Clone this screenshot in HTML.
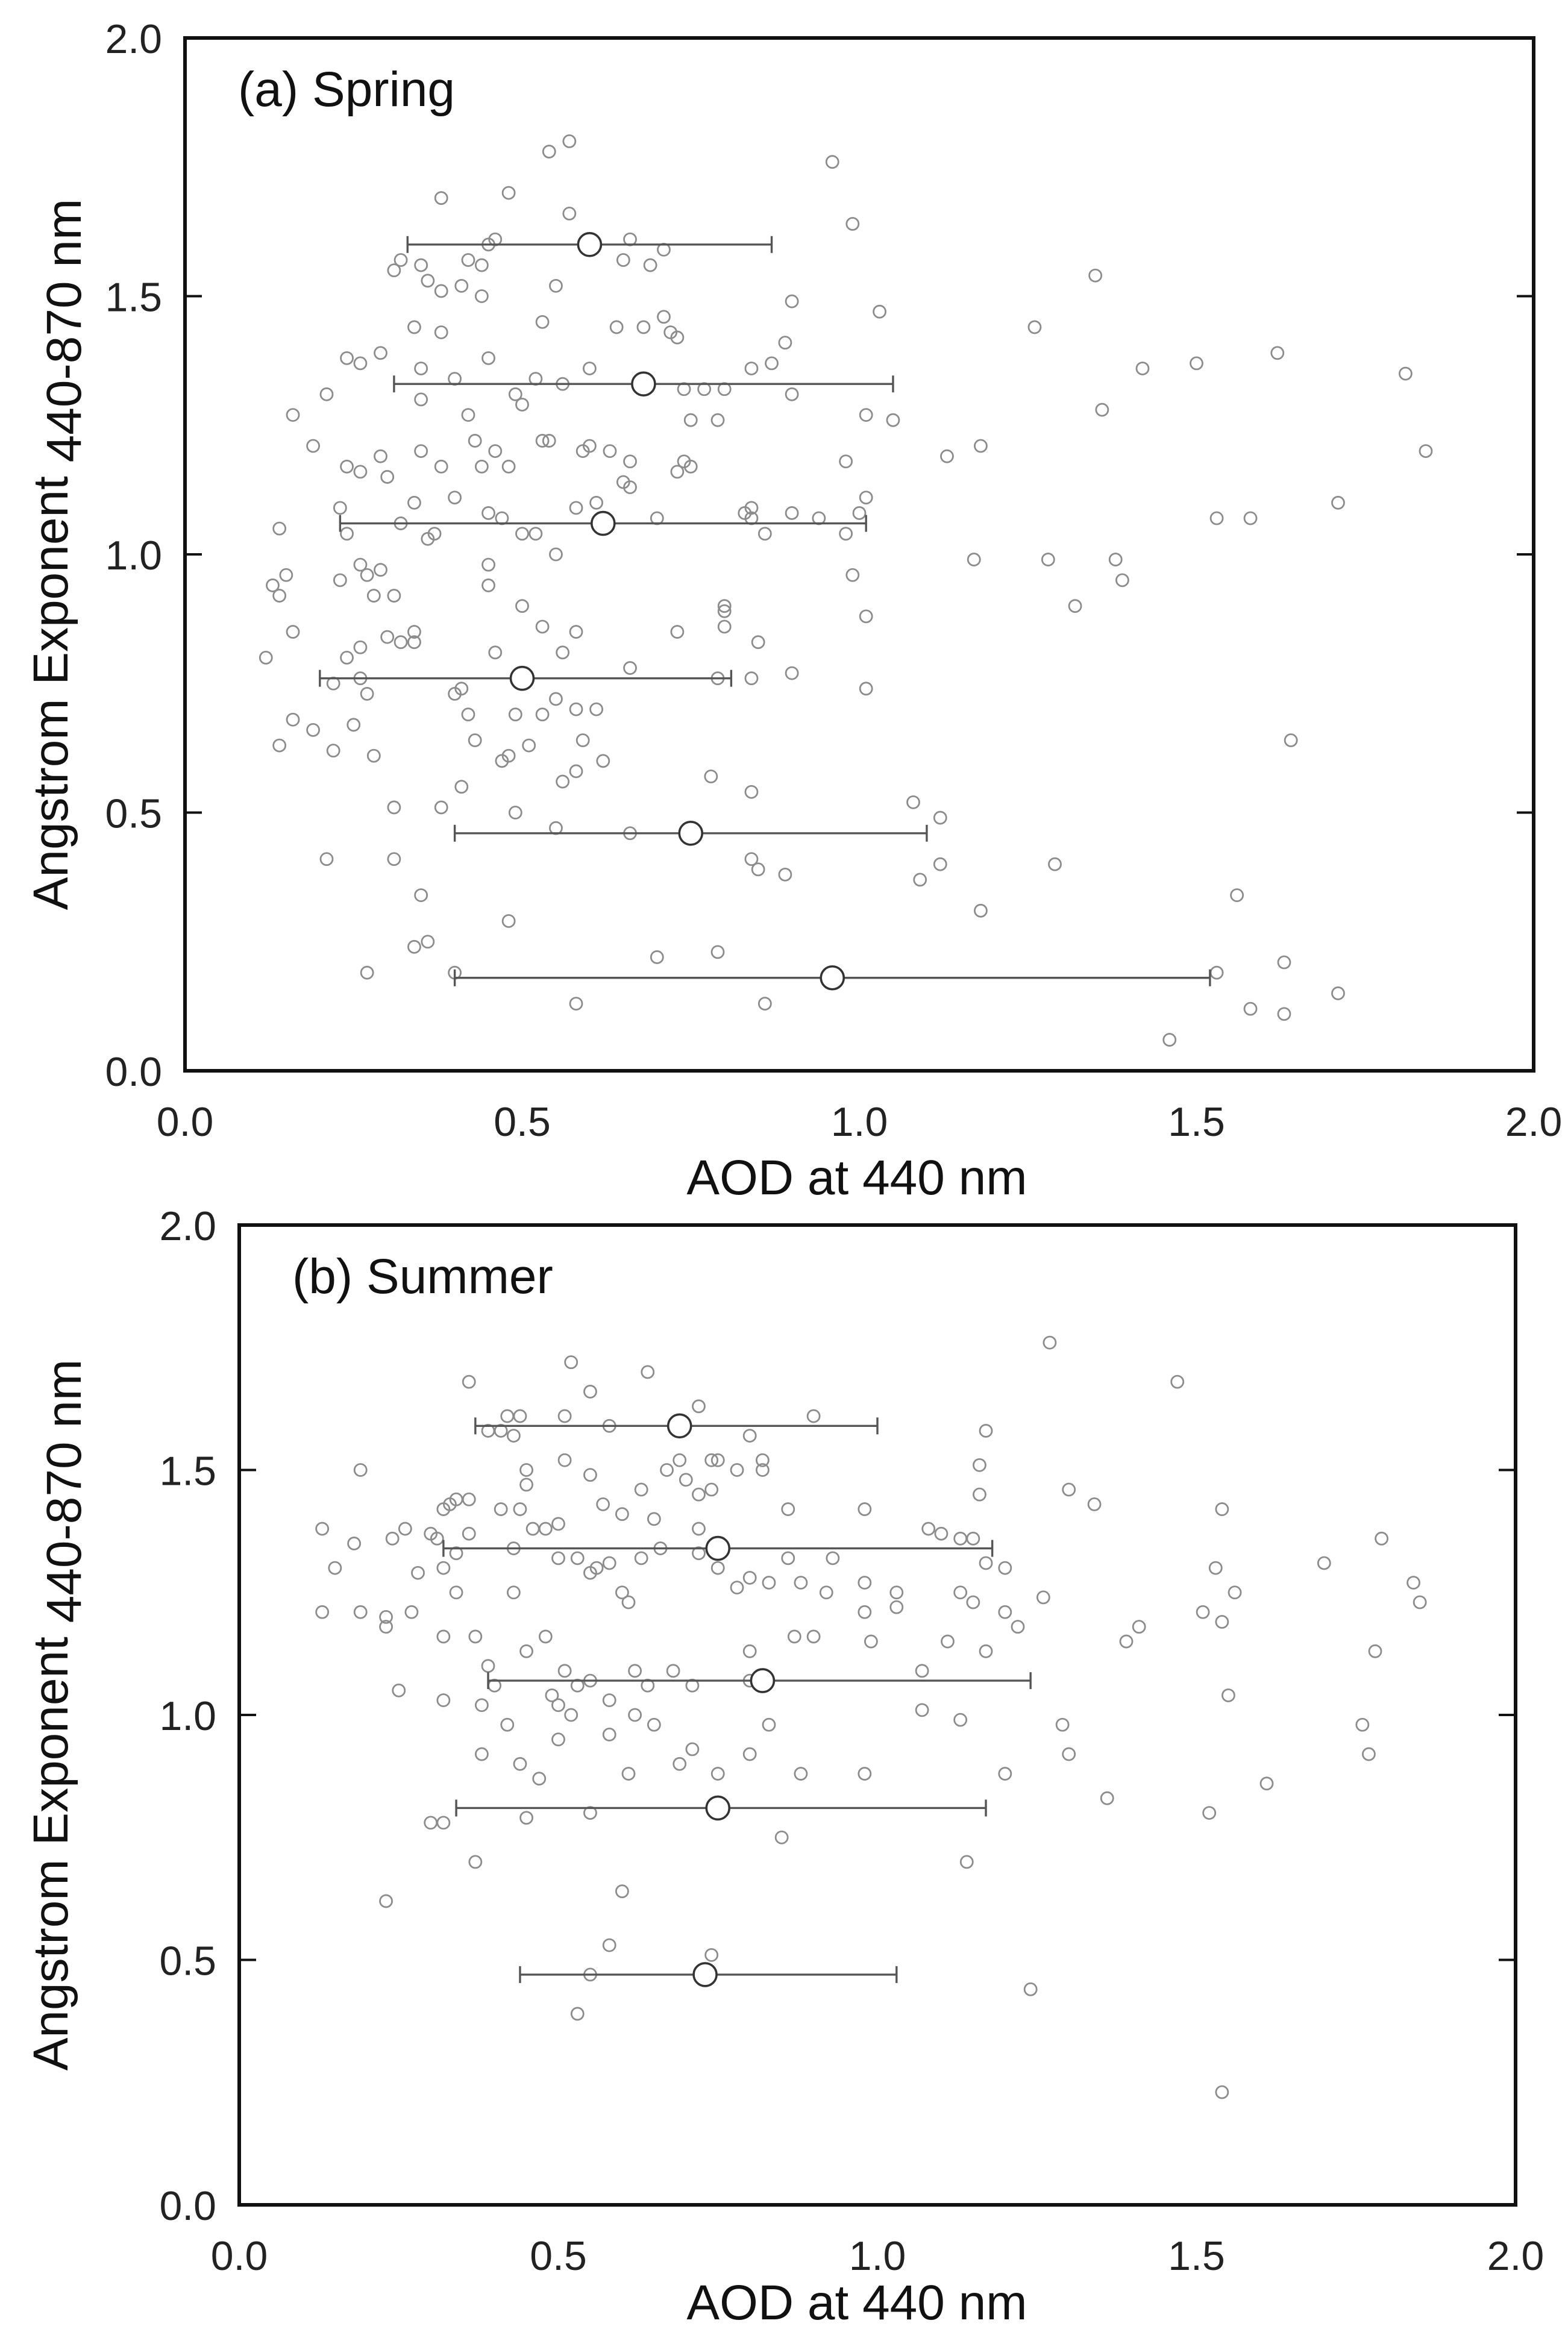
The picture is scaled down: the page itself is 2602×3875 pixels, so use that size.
<!DOCTYPE html>
<html><head><meta charset="utf-8"><style>
html,body{margin:0;padding:0;background:#fff;}
svg{display:block;font-family:"Liberation Sans",Arial,sans-serif;}
</style></head><body>
<svg id="chart" width="2602" height="3875" viewBox="0 0 2602 3875" xmlns="http://www.w3.org/2000/svg">
<rect x="0" y="0" width="2602" height="3875" fill="#fff"/>
</svg>
<script>
const tickValues = [0.0, 0.5, 1.0, 1.5, 2.0];
const tickLabels = ["0.0", "0.5", "1.0", "1.5", "2.0"];

const springX = [0.57,0.54,0.48,0.96,0.38,0.57,0.99,0.66,0.46,0.42,0.32,0.31,0.35,0.44,0.45,0.65,0.71,0.69,0.36,0.38,0.41,0.44,0.55,0.34,0.38,0.53,0.64,0.68,0.71,0.72,0.73,0.84,0.87,0.89,0.90,1.03,1.26,1.35,0.24,0.26,0.29,0.35,0.40,0.45,0.49,0.52,0.60,0.56,0.42,0.50,0.35,0.16,0.19,0.21,0.24,0.26,0.29,0.30,0.35,0.38,0.43,0.44,0.46,0.48,0.53,0.54,0.59,0.60,0.63,0.66,0.73,0.74,0.75,0.79,0.77,0.80,0.74,0.90,0.98,1.01,1.05,1.13,1.18,1.36,1.42,1.50,1.62,1.81,1.84,0.14,0.23,0.24,0.32,0.34,0.36,0.37,0.40,0.45,0.47,0.50,0.52,0.55,0.58,0.61,0.65,0.66,0.70,0.75,0.84,0.84,0.83,0.86,0.90,0.94,0.98,1.00,1.01,1.17,1.28,1.32,1.38,1.39,1.53,1.58,1.71,0.13,0.14,0.15,0.12,0.16,0.23,0.26,0.27,0.29,0.28,0.31,0.24,0.26,0.30,0.32,0.34,0.34,0.45,0.45,0.50,0.46,0.53,0.56,0.58,0.66,0.73,0.79,0.84,0.85,0.80,0.80,0.80,0.90,0.99,1.01,1.01,0.14,0.16,0.19,0.22,0.22,0.25,0.26,0.27,0.28,0.40,0.41,0.42,0.43,0.41,0.47,0.48,0.49,0.51,0.53,0.55,0.58,0.59,0.61,0.62,0.56,0.58,0.78,0.84,0.31,0.38,0.49,0.55,0.66,1.08,1.12,0.21,0.31,0.35,0.48,0.84,0.85,0.89,1.09,1.12,1.18,1.29,1.56,1.64,0.27,0.34,0.36,0.40,0.58,0.70,0.79,0.86,1.46,1.53,1.58,1.63,1.63,1.71];
const springY = [1.80,1.78,1.70,1.76,1.69,1.66,1.64,1.61,1.61,1.57,1.57,1.55,1.56,1.56,1.60,1.57,1.59,1.56,1.53,1.51,1.52,1.50,1.52,1.44,1.43,1.45,1.44,1.44,1.46,1.43,1.42,1.36,1.37,1.41,1.49,1.47,1.44,1.54,1.38,1.37,1.39,1.36,1.34,1.38,1.31,1.34,1.36,1.33,1.27,1.29,1.30,1.27,1.21,1.31,1.17,1.16,1.19,1.15,1.20,1.17,1.22,1.17,1.20,1.17,1.22,1.22,1.20,1.21,1.20,1.18,1.16,1.18,1.26,1.26,1.32,1.32,1.32,1.31,1.18,1.27,1.26,1.19,1.21,1.28,1.36,1.37,1.39,1.35,1.20,1.05,1.09,1.04,1.06,1.10,1.03,1.04,1.11,1.08,1.07,1.04,1.04,1.00,1.09,1.10,1.14,1.13,1.07,1.17,1.07,1.09,1.08,1.04,1.08,1.07,1.04,1.08,1.11,0.99,0.99,0.90,0.99,0.95,1.07,1.07,1.10,0.94,0.92,0.96,0.80,0.85,0.95,0.98,0.96,0.97,0.92,0.92,0.80,0.82,0.84,0.83,0.85,0.83,0.94,0.98,0.90,0.81,0.86,0.81,0.85,0.78,0.85,0.76,0.76,0.83,0.86,0.90,0.89,0.77,0.96,0.74,0.88,0.63,0.68,0.66,0.75,0.62,0.67,0.76,0.73,0.61,0.73,0.74,0.69,0.64,0.55,0.60,0.61,0.69,0.63,0.69,0.72,0.70,0.64,0.70,0.60,0.56,0.58,0.57,0.54,0.51,0.51,0.50,0.47,0.46,0.52,0.49,0.41,0.41,0.34,0.29,0.41,0.39,0.38,0.37,0.40,0.31,0.40,0.34,0.64,0.19,0.24,0.25,0.19,0.13,0.22,0.23,0.13,0.06,0.19,0.12,0.11,0.21,0.15];
const springMeanX = [0.60,0.68,0.62,0.50,0.75,0.96];
const springMeanY = [1.60,1.33,1.06,0.76,0.46,0.18];
const springErrLo = [0.33,0.31,0.23,0.20,0.40,0.40];
const springErrHi = [0.87,1.05,1.01,0.81,1.10,1.52];

const summerX = [1.27,1.47,0.52,0.64,0.36,0.55,0.42,0.44,0.51,0.72,0.90,0.41,0.39,0.43,0.58,0.80,1.17,0.19,0.34,0.36,0.33,0.32,0.41,0.44,0.46,0.48,0.50,0.51,0.55,0.45,0.45,0.63,0.67,0.70,0.74,0.75,0.78,0.72,0.69,0.60,0.57,0.65,0.74,0.82,0.82,0.86,0.98,1.16,1.16,1.30,1.34,1.54,0.13,0.15,0.18,0.19,0.23,0.23,0.24,0.26,0.27,0.28,0.30,0.31,0.32,0.32,0.34,0.34,0.36,0.37,0.43,0.43,0.50,0.53,0.55,0.56,0.58,0.60,0.61,0.63,0.66,0.72,0.72,0.75,0.78,0.80,0.83,0.86,0.88,0.92,0.93,0.98,0.98,1.03,1.03,1.08,1.10,1.13,1.15,1.17,1.20,1.22,1.20,1.15,1.13,1.26,1.51,1.53,1.56,1.54,1.70,1.79,1.84,1.85,0.13,0.25,0.39,0.40,0.45,0.48,0.51,0.53,0.55,0.58,0.62,0.64,0.68,0.71,0.80,0.80,0.87,0.90,0.99,1.07,1.11,1.17,1.39,1.41,0.32,0.38,0.42,0.49,0.50,0.52,0.58,0.62,0.65,0.69,0.71,0.75,0.80,0.83,0.50,0.44,0.47,0.38,0.61,0.88,0.98,1.07,1.13,1.20,1.29,1.30,1.36,1.55,1.61,1.76,1.78,1.77,0.30,0.32,0.37,0.45,0.55,0.85,1.14,1.52,0.23,0.60,0.58,0.74,0.55,0.53,1.24,1.54];
const summerY = [1.76,1.68,1.72,1.70,1.68,1.66,1.61,1.61,1.61,1.63,1.61,1.58,1.58,1.57,1.59,1.57,1.58,1.50,1.44,1.44,1.43,1.42,1.42,1.42,1.38,1.38,1.39,1.52,1.49,1.50,1.47,1.46,1.50,1.48,1.52,1.52,1.50,1.45,1.52,1.41,1.43,1.40,1.46,1.50,1.52,1.42,1.42,1.51,1.45,1.46,1.43,1.42,1.38,1.30,1.35,1.21,1.18,1.20,1.36,1.38,1.21,1.29,1.37,1.36,1.30,1.16,1.33,1.25,1.37,1.16,1.34,1.25,1.32,1.32,1.29,1.30,1.31,1.25,1.23,1.32,1.34,1.38,1.33,1.30,1.26,1.28,1.27,1.32,1.27,1.25,1.32,1.27,1.21,1.22,1.25,1.38,1.37,1.36,1.36,1.31,1.30,1.18,1.21,1.23,1.25,1.24,1.21,1.30,1.25,1.19,1.31,1.36,1.27,1.23,1.21,1.05,1.10,1.06,1.13,1.16,1.09,1.06,1.07,1.03,1.09,1.06,1.09,1.06,1.07,1.13,1.16,1.16,1.15,1.09,1.15,1.13,1.15,1.18,1.03,1.02,0.98,1.04,1.02,1.00,0.96,1.00,0.98,0.90,0.93,0.88,0.92,0.98,0.95,0.90,0.87,0.92,0.88,0.88,0.88,1.01,0.99,0.88,0.98,0.92,0.83,1.04,0.86,0.98,1.13,0.92,0.78,0.78,0.70,0.79,0.80,0.75,0.70,0.80,0.62,0.64,0.53,0.51,0.47,0.39,0.44,0.23];
const summerMeanX = [0.69,0.75,0.82,0.75,0.73];
const summerMeanY = [1.59,1.34,1.07,0.81,0.47];
const summerErrLo = [0.37,0.32,0.39,0.34,0.44];
const summerErrHi = [1.00,1.18,1.24,1.17,1.03];

const NS = "http://www.w3.org/2000/svg";
const svg = document.getElementById('chart');
function mk(tag, attrs, parent) {
  const e = document.createElementNS(NS, tag);
  for (const k in attrs) e.setAttribute(k, attrs[k]);
  (parent || svg).appendChild(e);
  return e;
}

function drawPanel(cfg, px, py, mx, my, lo, hi, key) {
  const xs = v => cfg.left + (v - 0) / 2 * (cfg.right - cfg.left);
  const ys = v => cfg.bottom - (v - 0) / 2 * (cfg.bottom - cfg.top);
  const g = mk('g', {});
  
  

  const pg = mk('g', {}, g);
  
  
  for (let i = 0; i < px.length; i++) {
    const c = mk('circle', {cx: xs(px[i]), cy: ys(py[i]), r: 10, fill: 'none', stroke: '#8c8c8c', 'stroke-width': 2.8}, pg);
    
    
  }
  for (let i = 0; i < mx.length; i++) {
    const eg = mk('g', {stroke: '#555', 'stroke-width': 3.4, fill: 'none'}, g);
    
    
    const y = ys(my[i]);
    mk('line', {x1: xs(lo[i]), x2: xs(hi[i]), y1: y, y2: y}, eg);
    mk('line', {x1: xs(lo[i]), x2: xs(lo[i]), y1: y - 14, y2: y + 14}, eg);
    mk('line', {x1: xs(hi[i]), x2: xs(hi[i]), y1: y - 14, y2: y + 14}, eg);
    const m = mk('circle', {cx: xs(mx[i]), cy: y, r: 19, fill: '#fff', stroke: '#333', 'stroke-width': 3.6}, g);
    
    
  }
  const fr = mk('rect', {x: cfg.left, y: cfg.top, width: cfg.right - cfg.left, height: cfg.bottom - cfg.top, fill: 'none', stroke: '#111', 'stroke-width': 6}, g);
  
  
  for (let i = 0; i < tickValues.length; i++) {
    const v = tickValues[i];
    const tk = mk('g', {stroke: '#111', 'stroke-width': 4}, g);
    
    
    mk('line', {x1: cfg.left, x2: cfg.left + 28, y1: ys(v), y2: ys(v)}, tk);
    mk('line', {x1: cfg.right, x2: cfg.right - 28, y1: ys(v), y2: ys(v)}, tk);
    const yl = mk('text', {x: cfg.left - 38, y: ys(v) + 25, 'text-anchor': 'end', 'font-size': 68, fill: '#222'}, g);
    yl.textContent = tickLabels[i];
    
    
    const xl = mk('text', {x: xs(v), y: cfg.bottom + 108, 'text-anchor': 'middle', 'font-size': 68, fill: '#222'}, g);
    xl.textContent = tickLabels[i];
    
    
  }
  const lab = mk('text', {x: cfg.left + 88, y: cfg.top + 113, 'font-size': 82, fill: '#111'}, g);
  lab.textContent = cfg.label;
  
  
  const xt = mk('text', {x: 1422, y: cfg.bottom + cfg.titleOff, 'text-anchor': 'middle', 'font-size': 82, fill: '#111'}, g);
  xt.textContent = 'AOD at 440 nm';
  
  
  const cy = (cfg.top + cfg.bottom) / 2;
  const yt = mk('text', {x: 0, y: 0, 'text-anchor': 'middle', 'font-size': 82, fill: '#111', transform: 'translate(112,' + cy + ') rotate(-90)'}, g);
  
  
  const t1 = mk('tspan', {}, yt); t1.textContent = 'Angstrom Exponent ';
  const t2 = mk('tspan', {dy: 22}, yt); t2.textContent = '440-870 nm';
}

drawPanel({left: 307, right: 2545, top: 63, bottom: 1777, label: '(a) Spring', titleOff: 205}, springX, springY, springMeanX, springMeanY, springErrLo, springErrHi, 'spring');
drawPanel({left: 397, right: 2515, top: 2033, bottom: 3659, label: '(b) Summer', titleOff: 190}, summerX, summerY, summerMeanX, summerMeanY, summerErrLo, summerErrHi, 'summer');
</script>
</body></html>
